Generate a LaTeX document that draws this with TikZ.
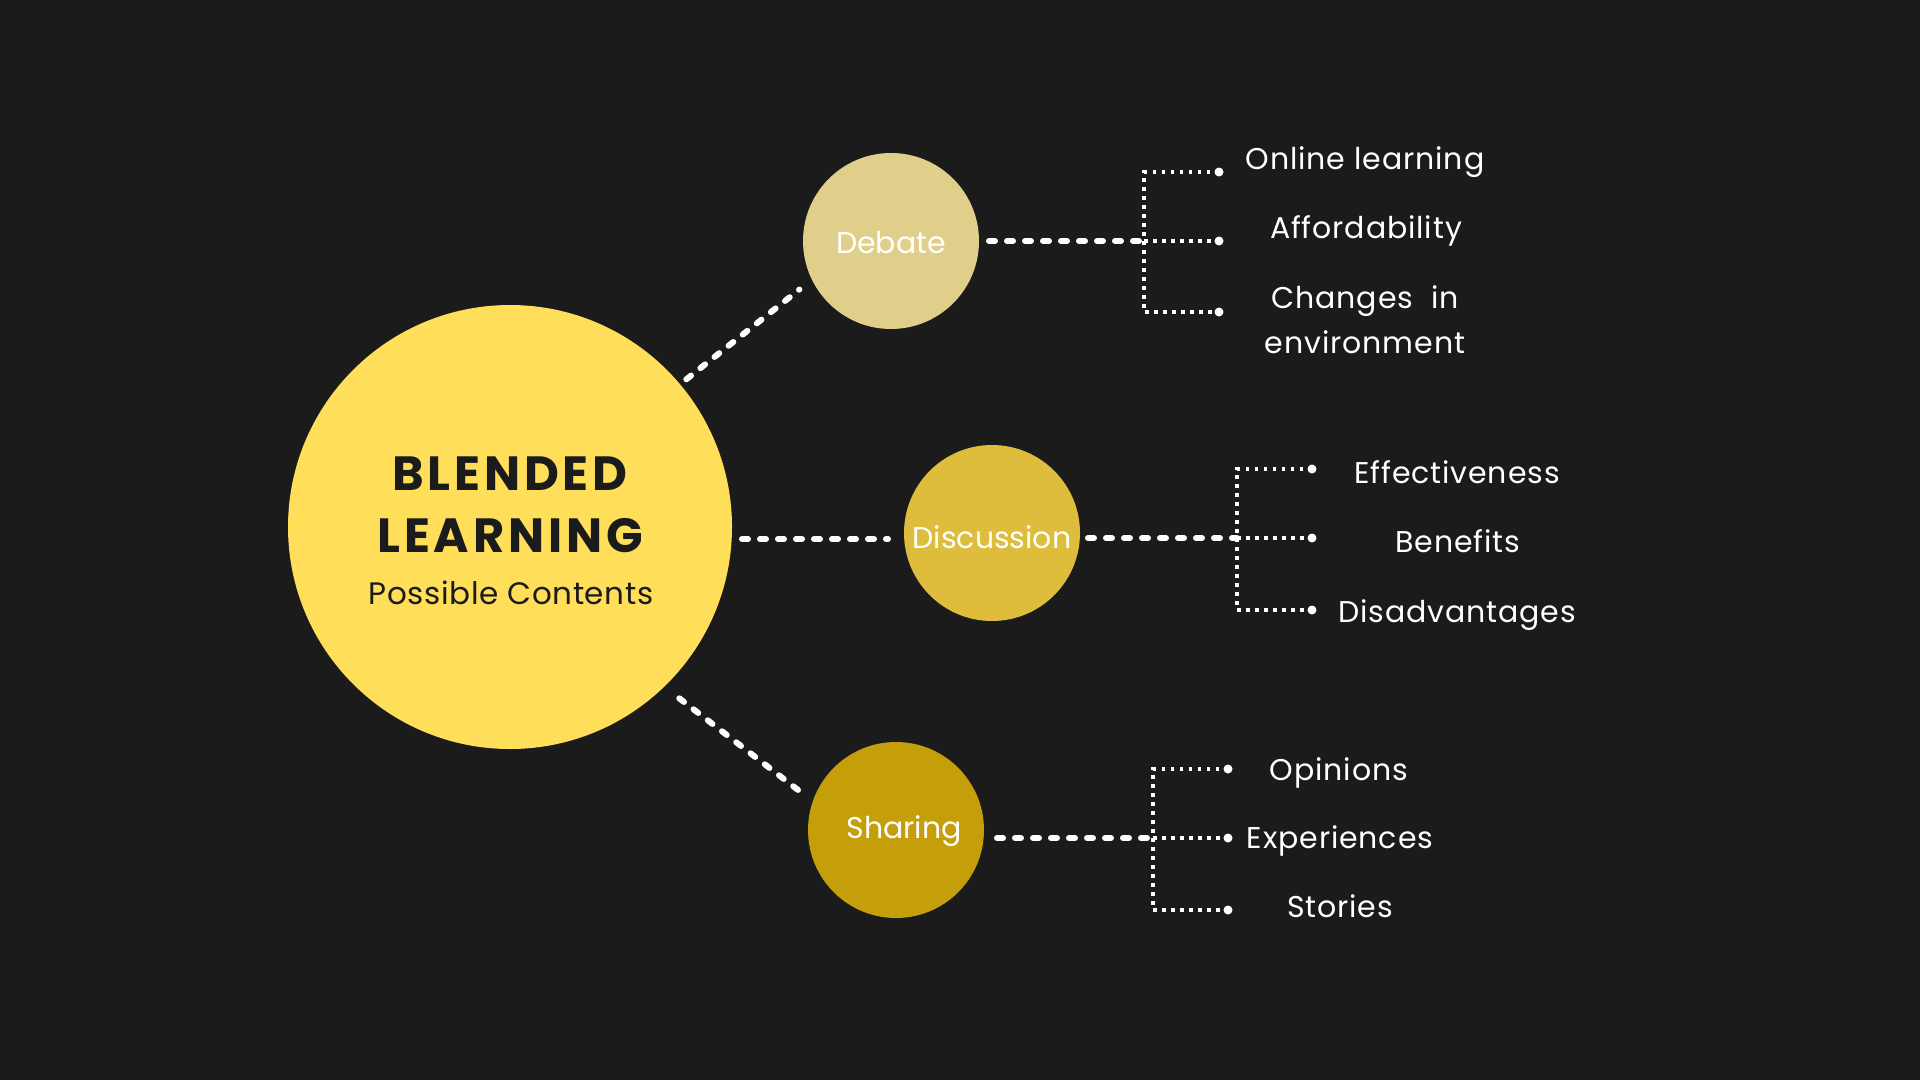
\documentclass[tikz,border=0pt]{standalone}
\usepackage{fontspec}
\setmainfont{Poppins}
\begin{document}
\definecolor{bg}{HTML}{1B1B1B}
\definecolor{hub}{HTML}{FFDE59}
\definecolor{debatec}{HTML}{E0CF8A}
\definecolor{discc}{HTML}{DFBD3C}
\definecolor{sharec}{HTML}{C59F0A}
\begin{tikzpicture}[x=1bp,y=-1bp,
  bubble/.style={circle,inner sep=0pt,outer sep=0pt,minimum size=176bp},
  bubbletext/.style={text=white,font=\fontsize{30bp}{36bp}\selectfont,anchor=base},
  title/.style={text=bg,font=\fontsize{48bp}{56bp}\selectfont\bfseries\addfontfeatures{LetterSpace=8},anchor=base},
  subtitle/.style={text=bg,font=\fontsize{31bp}{38bp}\selectfont\addfontfeatures{LetterSpace=2},anchor=base},
  item/.style={text=white,font=\fontsize{30bp}{36bp}\selectfont\addfontfeatures{LetterSpace=3},anchor=base},
  bigdots/.style={white,line width=6bp,line cap=round,dash pattern=on 6bp off 12bp},
  smalldots/.style={white,line width=3.5bp,dash pattern=on 3.5bp off 5.5bp},
  enddot/.style={circle,fill=white,inner sep=0pt,minimum size=9bp}]
\useasboundingbox (0,0) rectangle (1920,1080);
\fill[bg] (0,0) rectangle (1920,1080);

% central hub
\node[circle,fill=hub,inner sep=0pt,outer sep=0pt,minimum size=444bp] (main) at (510,527) {};
\node[title] (t1) at (510,490) {BLENDED};
\node[title] (t2) at (510,552) {LEARNING};
\node[subtitle] (t3) at (511,604) {Possible Contents};

% three topics
\node[bubble,fill=debatec] (deb) at (891,241) {};
\node[bubble,fill=discc] (disc) at (992,533) {};
\node[bubble,fill=sharec] (share) at (896,830) {};
\node[bubbletext] at (891,253) {Debate};
\node[bubbletext] at (992,548) {Discussion};
\node[bubbletext] at (904,838) {Sharing};

% hub to topics
\draw[bigdots,shorten <=8bp,shorten >=16bp] (main.40.6) -- (deb.206.8);
\coordinate (mdy) at (0,539);
\draw[bigdots,shorten <=10bp,shorten >=16bp] (main.east |- mdy) -- (disc.west |- mdy);
\draw[bigdots,shorten <=19bp,shorten >=18bp] (main.-46.8) -- (share.161.2);

% Debate bracket
\coordinate (dJ) at (1144,241);
\coordinate (dT) at (1144,172);
\coordinate (dB) at (1144,312);
\node[enddot] (dE1) at (1219,172) {};
\node[enddot] (dE2) at (1219,241) {};
\node[enddot] (dE3) at (1219,312) {};
\draw[bigdots,shorten <=10bp] (deb.east |- dJ) -- (dJ);
\draw[smalldots] (dE1.center) -- (dT) -- (dB) -- (dE3.center);
\draw[smalldots] (dJ) -- (dE2.center);
\node[item] (d1) at (1365,169) {Online learning};
\node[item] (d2) at (1366,238) {Affordability};
\node[item] (d3) at (1365,308) {Changes\ \ in};
\node[item] (d4) at (1365,353) {environment};

% Discussion bracket
\coordinate (cJ) at (1237,538);
\coordinate (cT) at (1237,469);
\coordinate (cB) at (1237,610);
\node[enddot] (cE1) at (1312,469) {};
\node[enddot] (cE2) at (1312,538) {};
\node[enddot] (cE3) at (1312,610) {};
\draw[bigdots,shorten <=8bp] (disc.east |- cJ) -- (cJ);
\draw[smalldots] (cE1.center) -- (cT) -- (cB) -- (cE3.center);
\draw[smalldots] (cJ) -- (cE2.center);
\node[item] (c1) at (1457,483) {Effectiveness};
\node[item] (c2) at (1458,552) {Benefits};
\node[item] (c3) at (1457,622) {Disadvantages};

% Sharing bracket
\coordinate (sJ) at (1153,838);
\coordinate (sT) at (1153,769);
\coordinate (sB) at (1153,910);
\node[enddot] (sE1) at (1228,769) {};
\node[enddot] (sE2) at (1228,838) {};
\node[enddot] (sE3) at (1228,910) {};
\draw[bigdots,shorten <=13bp] (share.east |- sJ) -- (sJ);
\draw[smalldots] (sE1.center) -- (sT) -- (sB) -- (sE3.center);
\draw[smalldots] (sJ) -- (sE2.center);
\node[item] (s1) at (1339,780) {Opinions};
\node[item] (s2) at (1340,848) {Experiences};
\node[item] (s3) at (1340,917) {Stories};
\end{tikzpicture}
\end{document}
